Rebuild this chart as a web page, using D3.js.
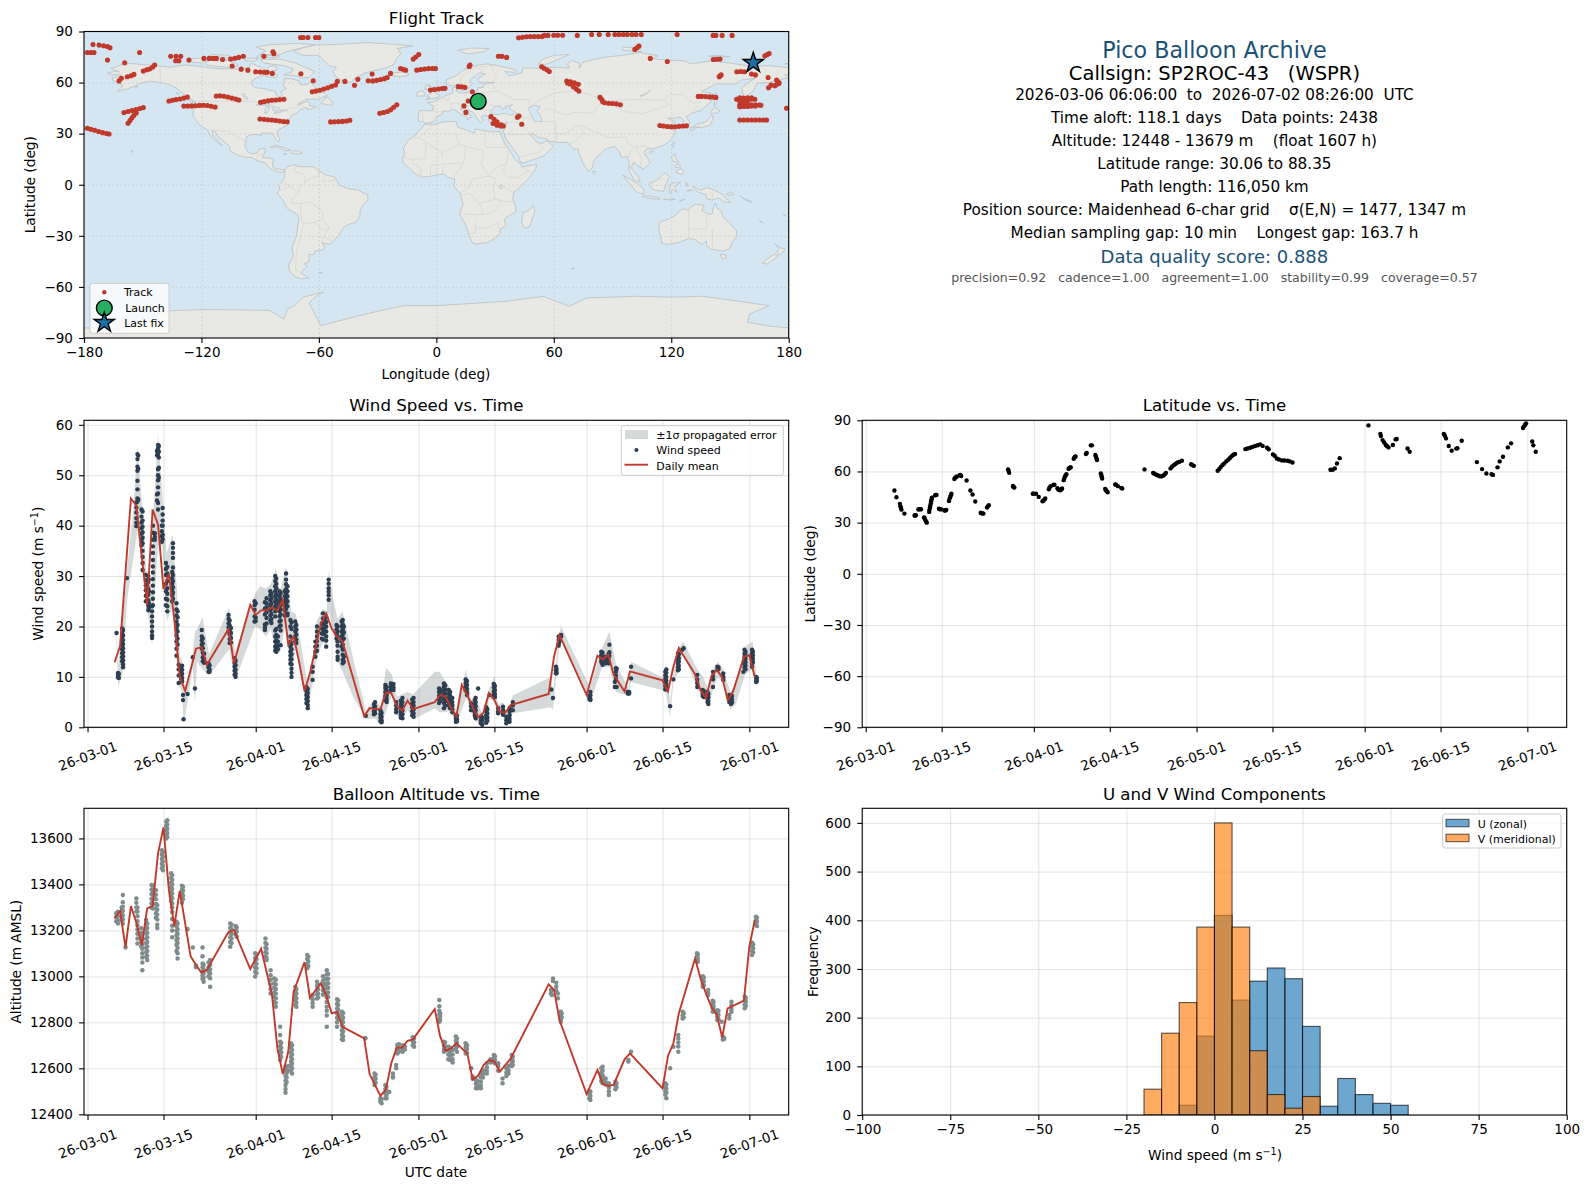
<!DOCTYPE html>
<html><head><meta charset="utf-8">
<script src="https://cdn.jsdelivr.net/npm/d3@7"></script>
<style>html,body{margin:0;padding:0;background:#fff}svg{display:block}text{font-family:"DejaVu Sans";fill:#000}</style>
</head><body><svg id="c" width="1589" height="1189"></svg>
<script>
// ---------- land outlines (lon, lat) ----------
const landNorthAmerica=[[-168.1,65.6],[-164.5,66.5],[-163,66.6],[-161.8,66.3],[-163.5,67.1],[-166.3,68.3],[-163,69.5],[-161,70.4],[-156.6,71.3],[-152,70.8],[-148,70.4],[-141,69.7],[-136,69],[-132,69.8],[-128,70.3],[-124.5,69.9],[-120,69.4],[-115,68.5],[-110,68],[-105,68.2],[-101,67.8],[-98,68],[-96,68.3],[-94.5,71.5],[-92,70],[-89,68.8],[-87,67.3],[-85,69.5],[-82,69.7],[-81.4,67.5],[-86,66],[-87,64.8],[-92,62.8],[-94.5,60.5],[-94.5,58.8],[-92.5,57],[-88,56.5],[-85,55.3],[-82.3,55.1],[-82,53],[-80,51.3],[-78.8,52.5],[-79.5,54.7],[-76.7,56.5],[-78.5,58.8],[-77.5,60.5],[-78,62.4],[-74,62.2],[-70,61],[-69.5,58.8],[-66,58.8],[-64.5,60.3],[-62,57.5],[-60,55.5],[-57,53.7],[-55.8,52.2],[-58.5,51.3],[-60,50.2],[-66.5,50.2],[-68.5,48.9],[-71,46.9],[-65.5,49.1],[-64.5,47.9],[-65,46.5],[-61,46],[-63.5,44.7],[-66,43.8],[-66,45.2],[-67.5,45],[-70,43.7],[-71,42.2],[-74,40.7],[-75.5,38],[-76,36.8],[-75.5,35.3],[-78,33.9],[-81,32],[-81.3,30],[-80.1,26.8],[-80.5,25.2],[-82,26.5],[-82.8,28.5],[-84,30],[-86,30.4],[-89.5,30.2],[-89.5,29.1],[-91.5,29.4],[-94.5,29.5],[-97,28],[-97.5,25],[-97.8,22.3],[-96.2,19.2],[-94.5,18.2],[-91.8,18.5],[-90.5,20.8],[-87.5,21.5],[-87.5,19.5],[-88.3,17.6],[-88.8,15.9],[-86,15.9],[-83.2,15],[-83.7,11],[-82.5,9.2],[-80,9.2],[-77.5,8.7],[-78,7.3],[-80.2,7.4],[-81.5,7.7],[-83,8.3],[-85.5,10],[-87.5,13],[-91.5,14],[-94.5,16.2],[-97,15.9],[-101.5,17.5],[-105.5,20],[-105.5,22.5],[-108.5,25.3],[-112,29],[-113,31.3],[-114.7,31.7],[-114,28.5],[-111,25],[-109.5,23],[-112,25],[-115,28],[-117.1,32.5],[-120.5,34.5],[-122.5,37.5],[-124.3,40.4],[-124,46],[-123,48.5],[-125,50],[-128,52.5],[-130.5,54.5],[-133,57],[-136,58.5],[-140,59.8],[-146,60.8],[-150,60],[-152,59.3],[-154,57.8],[-158,56.3],[-163,54.8],[-160,58.3],[-162,59.5],[-165,61],[-165.8,62.8],[-161,63.7],[-161.5,64.7],[-166,64.6],[-168.1,65.6]];
const landGreenland=[[-73,78.3],[-68,76],[-60,76],[-55,70],[-51,69],[-53,66.5],[-51,63],[-48,61],[-44,60],[-41,63],[-36,65.8],[-26,68.5],[-22,70.5],[-20,74.5],[-18,77],[-20,80],[-12,81.5],[-22,82.5],[-35,83.5],[-50,82.5],[-62,82],[-68,80.5],[-73,78.3]];
const landSouthAmerica=[[-77.5,8.7],[-75.5,10.8],[-72,12],[-71.5,11],[-68,10.5],[-63,10.7],[-61,9],[-57,6],[-52,4.5],[-50,1],[-50,0],[-48,-1],[-44.5,-2.5],[-40,-3],[-37,-5],[-35,-6],[-35,-9],[-37.5,-12],[-39,-15],[-39,-18],[-41,-22],[-44,-23],[-47,-24.7],[-48.6,-27],[-50,-30],[-53.5,-34],[-55,-35],[-58.3,-34.2],[-57,-36.5],[-58,-38.3],[-62,-39],[-62.5,-41],[-65,-41],[-65,-45],[-67.5,-46.5],[-66,-48],[-69,-51],[-68.5,-52.5],[-65.2,-54.8],[-69,-55.3],[-72,-54],[-75,-51],[-75.5,-47],[-73,-42],[-73.7,-37],[-71.5,-30],[-70.2,-20],[-71,-17.5],[-76,-14],[-78.5,-9],[-81.2,-5],[-80,-2.5],[-80.5,0],[-78.8,2],[-77.5,4],[-77.4,7],[-77.5,8.7]];
const landAfrica=[[-6,35.8],[-2,35.1],[3,36.8],[10,37.3],[11,33.7],[15,32.3],[19.5,30.3],[20,32.8],[25,31.7],[29,31],[32.3,31.3],[33.5,28],[35,24],[37,21],[38.5,18],[40,15],[43.2,12],[44,10.5],[51.2,11.9],[50.8,9.5],[47.5,4],[43,-1],[39.5,-4.5],[39,-8],[40.5,-13],[40.6,-16],[36,-19],[34.8,-20.5],[35.5,-24],[32.8,-26],[32.5,-28.5],[30,-31.5],[26,-34],[20,-34.8],[18.3,-34],[17,-30],[14.5,-22.5],[11.8,-17.5],[13.7,-11],[12,-5],[9,-1],[9.5,3.5],[6,4.3],[4.3,6.3],[1,5.9],[-3,5],[-7.5,4.4],[-11.5,7],[-13.5,9.5],[-16.7,12.5],[-17.4,14.7],[-16,19],[-17,21],[-14.5,26],[-11,28.7],[-9.7,31],[-6.8,34],[-6,35.8]];
const landEurasia=[[-9,37],[-9.3,39],[-8.8,43.5],[-2,43.4],[-1.3,46],[-4.5,48.3],[-1.5,48.7],[1.5,50.5],[4,52],[7,53.5],[8.5,54],[8.3,57],[10.7,57.7],[10,55],[12,54],[14,54],[19,54.5],[21.5,55.5],[21,57],[24,57.2],[24,59],[28,59.7],[30,60],[25,60.3],[22,60],[21.3,62.5],[25,65],[22,65.8],[17.5,62],[17,60.5],[18.5,59.5],[16.3,56.5],[14.2,55.5],[12.8,55.5],[11.2,59],[8,58],[5.3,59],[5,61.5],[10,64],[14,67.5],[20,70],[26,71],[31,70],[41,67.5],[40,66],[35,66.5],[37,64],[40,64.7],[44,66],[44,68.5],[54,68.5],[60,69],[68,68.5],[67,71],[69,73],[73,71.5],[73,68.5],[75,72],[80,73.5],[87,75],[95,76],[104,77.7],[113,75.7],[110,74],[113,73.7],[127,72.7],[130,71],[140,72.7],[150,71.5],[160,69.7],[170,69.9],[178,69],[180,68.8],[180,65],[178,64.5],[179.5,62.5],[174,61.7],[170,60],[164,59.8],[163,58],[162,55],[157,51],[156,57],[160,60.5],[163,62.5],[156,61.6],[152,59],[143,59.3],[135.5,54.8],[141,53.5],[140,48.5],[135,43.5],[130.8,42.2],[127.5,39.8],[129.4,37],[129,35.2],[126.3,34.5],[126.5,37.5],[124.5,39.8],[121.5,39],[118,39.2],[122,37],[119.3,34.8],[122,31],[121,28],[117,23.6],[113,22],[110,21],[108,21.6],[106,19],[109.3,13],[107,10.4],[105,8.7],[105,10],[103,11],[100.8,13.4],[99.5,10],[103.3,4.5],[104.2,1.4],[101,3],[98.5,8],[98.5,13],[97.5,16.5],[94.5,16],[93.5,19.5],[91,22.5],[87,21.3],[82.5,16.8],[80.3,14],[79.8,10],[77.5,8],[75,12.5],[72.8,19],[72.5,21],[70,21],[67,24.8],[61.5,25],[57,25.7],[56.5,27],[52,27.8],[49,30.3],[48,29.5],[50,26.7],[51.5,25],[54,24.2],[56.3,26],[59.8,22.5],[55,17],[52,15.7],[45,13],[43,13],[42,16.7],[39,21.5],[35,28],[34.8,29.5],[34.2,31.3],[35,33],[36,36.5],[32,36],[30,36.3],[27,37],[26.5,40.3],[24,40.8],[23,40],[24,37.8],[22.5,36.5],[21,38.5],[19.5,41.5],[18.7,42.6],[14,45],[12.4,45.3],[12.5,44],[16,41.7],[18.5,40],[16.8,39],[16,38],[15.6,40],[12.5,41.5],[10.5,43],[8.8,44.4],[6.5,43.2],[3.2,43.2],[3.2,41.8],[0.3,40],[-0.3,38.5],[-2,36.8],[-5.5,36],[-7,37.2],[-9,37]];
const landAustralia=[[114,-22],[113.5,-26],[115,-32],[115,-34.3],[118,-35],[123.5,-34],[129,-31.6],[132,-32],[135.5,-35],[138,-33],[138,-35.7],[140.5,-38],[144,-38.5],[146.5,-39],[150,-37.5],[151,-34],[153,-31],[153.5,-27],[151,-24],[149,-21.5],[146.5,-19],[145.5,-15],[143.5,-14],[142.5,-10.8],[141.5,-13],[141,-17],[139.5,-17.5],[135.5,-15],[136.8,-12],[132.5,-11.5],[130,-13],[129,-15],[125.5,-14],[122,-18],[119,-20],[114,-22]];
const landAntarctica=[[-180,-90],[-180,-84],[-160,-84.8],[-150,-80],[-136,-74],[-119,-73.3],[-100,-73.5],[-85,-73.8],[-78,-79],[-76,-73],[-73,-71.3],[-68,-66],[-57.5,-63],[-62,-66],[-65,-69.4],[-62,-76],[-59,-82.7],[-40,-77],[-25,-73],[-16.6,-71],[0,-71],[14,-70],[35,-68.5],[54.6,-65.5],[68,-71.3],[76.8,-66.5],[102,-65.5],[120,-66],[136,-65.5],[155,-68.5],[170,-71],[160,-76],[159,-80.7],[170,-83],[180,-84],[180,-90]];
const landIslands=[
[[-62,66.5],[-65,63],[-68,62.8],[-72,64],[-78,64.5],[-74,66],[-73,68],[-78,70],[-88,71.5],[-90,73.5],[-80,73.7],[-72,71.5],[-67,69],[-62,66.5]],
[[-117,70],[-105,68.8],[-101,70],[-105,73],[-115,73.3],[-118,72],[-117,70]],
[[-125,72],[-120,71.5],[-116,73.3],[-120,74.4],[-125,74],[-125,72]],
[[-90,76.5],[-80,76.3],[-77,78],[-70,80],[-62,82.3],[-72,83],[-85,82.2],[-92,81],[-87,78.5],[-90,76.5]],
[[-92,75],[-82,74.6],[-80,75.6],[-90,76.3],[-92,75]],
[[-117,75.2],[-106,74.8],[-106,76],[-115,76.5],[-117,75.2]],
[[-98,73],[-93,72.5],[-91,74],[-97,74.5],[-98,73]],
[[-87,63.5],[-82,63],[-81,64.3],[-85,66],[-87,65],[-87,63.5]],
[[-59,47.7],[-55.5,46.9],[-53,46.7],[-53,48.5],[-55.5,51.5],[-57.5,50],[-59,47.7]],
[[-85,21.9],[-82,23.1],[-77.5,21.8],[-74.2,20.2],[-77.5,19.9],[-78,20.7],[-82,22.3],[-85,21.9]],
[[-74.4,18.5],[-73,19.9],[-70,19.8],[-68.4,18.6],[-71,18],[-74.4,18.5]],
[[-78.3,18.2],[-76.3,18.1],[-77,17.8],[-78.3,18.2]],
[[-156,19],[-155,19.6],[-155.8,20.2],[-156,19]],
[[-128,50.7],[-125,50],[-123.5,48.4],[-125.5,48.9],[-128,50.7]],
[[-133,54],[-131.5,53],[-132,54],[-133,54]],
[[-154,57.5],[-152.5,58],[-153,57],[-154,57.5]],
[[-60,-51.5],[-58,-51.3],[-58.5,-52],[-60,-51.5]],
[[49.3,-12],[50.4,-15.5],[47.5,-24.8],[45,-25.5],[43.5,-22],[44.3,-16.3],[47,-15.3],[49.3,-12]],
[[-5.5,50],[1.3,51.2],[1.7,52.7],[0,53.5],[-1.8,55.5],[-2,57.5],[-4,57.7],[-3.2,58.6],[-5,58.6],[-6,56.5],[-3.3,54.9],[-3,53.4],[-5,52],[-3,51.3],[-5.5,50]],
[[-10,52],[-6.2,52.2],[-6,54],[-7.5,55.3],[-10,54.2],[-10,52]],
[[-24,65.5],[-22,64],[-18.5,63.4],[-14,64.5],[-15,66.2],[-20,66],[-24,65.5]],
[[11,79],[16,76.8],[24,78],[27,80],[18,80.3],[11,79]],
[[52,71],[56,70.7],[60,72.5],[68,76.5],[60,76],[54,73.5],[52,71]],
[[95,79],[105,78],[103,80],[95,81],[95,79]],
[[139,75.5],[146,75],[150,75.2],[143,76],[139,75.5]],
[[178,71],[180,71],[180,71.4],[178,71]],
[[131,34],[135,33.5],[140,35],[141,38],[141.5,40.5],[140,40.5],[138,37],[133,35.5],[131,34]],
[[140,42],[143,42],[145,43.3],[142,45.4],[140,42]],
[[130,31.5],[132,33],[130,33.8],[130,31.5]],
[[132.5,33.5],[134.5,33.7],[134,34.3],[132.5,33.5]],
[[142,46],[143.5,49],[143,54],[142,53],[142,46]],
[[120.2,23],[121,22],[122,25],[121,25.2],[120.2,23]],
[[108.7,19],[110,18.3],[111,19.7],[109.5,20],[108.7,19]],
[[120,16],[122,18.4],[122,16],[124,13],[121,13.7],[120,16]],
[[122,7.5],[125.5,5.7],[126.4,8],[125,9.6],[122.5,8],[122,7.5]],
[[122,10],[125,10.5],[124,12],[122,11.5],[122,10]],
[[79.8,8],[81.8,7.5],[80.5,6],[79.8,8]],
[[95.3,5.5],[98,4],[103.5,0],[106,-3],[105.8,-5.8],[102,-4],[98.5,1],[95.3,5.5]],
[[105.3,-6.8],[108,-6.5],[114.5,-7.8],[114,-8.7],[108,-7.8],[105.3,-6.8]],
[[109,1],[111,1.6],[113,3.2],[116.8,7],[119,5],[117.7,1],[116,-4],[111,-3],[109,-0.5],[109,1]],
[[119.5,-5.5],[120.5,-2.7],[123,-4.5],[121.5,-1],[125,1.5],[120,0.8],[119,-2],[119.5,-5.5]],
[[131,-0.8],[135,-3.3],[138,-1.7],[141,-2.6],[146,-5.5],[148,-8],[150.5,-10.5],[147,-10],[144,-7.7],[141,-9],[138,-8.2],[138,-6],[133,-4],[131,-0.8]],
[[124,-10],[127,-8.5],[125,-9],[124,-10]],
[[116,-8.5],[119,-8.4],[122,-8.5],[119,-9],[116,-8.5]],
[[127.5,1.5],[128.5,0],[128,-1],[127.5,1.5]],
[[129,-3],[131,-3.3],[128,-3.7],[129,-3]],
[[148,-5.5],[151,-4.2],[152,-5.5],[149,-6.3],[148,-5.5]],
[[155,-6.5],[157,-8],[160,-9.3],[161.5,-10.5],[158,-9],[155,-6.5]],
[[165,-21],[167,-22.3],[165.5,-21.8],[165,-21]],
[[177.5,-17.5],[178.5,-18],[177.5,-18.2],[177.5,-17.5]],
[[145,-41],[148,-41],[148,-43],[146,-43.5],[145,-41]],
[[172.8,-34.5],[175.5,-37],[178.3,-37.7],[176.8,-40],[175,-41.5],[174,-39.3],[175,-37.5],[172.8,-34.5]],
[[172.7,-40.7],[174.2,-41.7],[172.8,-43.7],[171,-45],[169,-46.6],[166.5,-46],[168.5,-44],[172.7,-40.7]],
[[69,-49],[70.5,-49.2],[69.5,-49.7],[69,-49]]
];
const inlandWater=[
[[28,41.5],[31,41.2],[35,42],[38,41],[41.5,41.7],[39,43.7],[37,45],[39,47],[35,46],[36,45.2],[33.5,44.4],[33,46],[30.5,46.3],[28,43.5],[28,41.5]],
[[47,45],[50,46.7],[53,46],[51.5,43],[53.5,40],[54,37],[50,37.3],[49,39.5],[47.5,43],[47,45]],
[[-92,46.8],[-88,48.8],[-85,47.5],[-85,46.5],[-92,46.8]],
[[-87.8,42],[-86.5,42],[-85,45.8],[-87,45.7],[-87.8,42]],
[[-84,46],[-80,45],[-81.7,43.2],[-83.5,43.7],[-84,46]],
[[-83,41.7],[-79,42.8],[-79,43.3],[-76.3,43.5],[-76.5,44],[-80,43.6],[-83,42.2],[-83,41.7]],
[[-97.5,50.5],[-96.5,50.5],[-98,53.5],[-99.5,53],[-97.5,50.5]],
[[33,-2.5],[34,-1],[33,0.3],[31.8,-1],[33,-2.5]],
[[104,52],[106,52.5],[109.5,55.5],[108,54],[104,52]]
];
const countryBorders=[
[[-123,49],[-95,49],[-89,48],[-83,46],[-82.5,43],[-79,43],[-75,45],[-71,45],[-69,47.3],[-67.5,45]],
[[-141,69.7],[-141,60],[-135,58.5]],[[-117,32.5],[-108,31.5],[-106.5,31.8],[-103,29],[-99,26.5],[-97.2,26]],
[[-92,14.6],[-91,17.5],[-89,17.8],[-89,15.8]],[[-72,12],[-72.5,7.5],[-67.5,6],[-67,1.5],[-70,-1],[-70,-4.2],[-73,-7.3],[-74,-11],[-69.5,-11],[-65.5,-10],[-60,-13.5],[-58,-16],[-58,-20],[-54.5,-25.5],[-57.5,-30],[-53.5,-33.5]],
[[-60,8.5],[-60,5],[-64,4],[-67,1.5]],[[-57,6],[-58,2],[-55,2.3],[-52,2.3],[-52,4.5]],[[-80.3,-3.4],[-75,-1],[-70,-4.2]],[[-79,1.5],[-75,-0.5]],[[-69.5,-17.5],[-68,-23],[-70,-33],[-71.5,-40],[-72,-50],[-68.5,-52.5]],[[-69.5,-17.5],[-69,-11]],[[-68,-23],[-62.5,-22],[-58,-20]],[[-62.5,-22],[-58,-27],[-54.5,-25.5]],[[-58.3,-34.2],[-57.5,-30]],
[[-8.7,27.5],[-13,27.7]],[[-8.7,27.5],[3,19],[12,23.5],[24,20],[23,12],[27,5]],[[9.5,30],[12,23.5]],[[-2,35],[-8.7,27.5]],[[25,31.7],[25,22]],[[25,22],[36.8,22]],[[3,6.5],[3.5,12],[14,13],[9,4.5]],[[-12,14.7],[-6,15.5],[-5,25]],[[3,15.5],[3,19]],[[14,13],[15,23]],[[-16.5,16],[-12,14.7],[-12,12.5],[-8,10],[-8,5]],[[-3,5],[-3,11],[3,12]],[[12.3,-6],[17,-5],[22,-11],[30,-8.5],[29,-2],[30.7,3.5],[27,5],[18.5,3.5],[17,-1],[12,-5]],[[36,12.5],[34,8],[36,4.5],[41,4],[47.5,8],[42.8,11]],[[34,-1],[39.5,-4.5]],[[30,-8.5],[34,-9.5],[40,-10.5]],[[12,-17.2],[24,-17.5],[22,-11]],[[20,-22],[20,-28.5],[17,-28.5]],[[24,-17.5],[30,-15.6],[33,-9.5]],[[32,-26],[31.5,-22.4],[25.5,-25.7],[20,-25]],[[36.8,22],[36,12.5],[30,10],[27,5]],
[[28,60],[31,55],[40,50],[47,50],[48,46],[55,51],[61,54],[70,55],[77,53.5],[87,49],[98,50],[107,50],[116,49.7],[119,53],[126,53],[131,48],[135,48.5],[131,43]],[[87,49],[96,43],[105,41.7],[111,44],[119,47],[116,49.7]],[[53,42],[56,45],[66,41],[71,42.5],[80,42],[83,47],[87,49]],[[44.5,39.5],[48,38.8]],[[44.5,39.5],[45,34],[48,30]],[[54,37.5],[61,36.5],[61,30],[61.5,25]],[[74,35],[79,32],[88,27.8],[97,28],[98,24],[101,21.5],[106,23],[108,21.6]],[[61,30],[66,30],[71,34],[74,35],[75,30],[70,25],[68,23.7]],[[36,36.5],[44.5,37]],[[36,29.5],[44,29.5],[48,29.5]],[[39,32],[36,29.5]],[[43,16.5],[52,19],[55,22],[51.5,24.5]],
[[-1.8,43.4],[3,42.5]],[[-7,42],[-7,37.2]],[[6,49.5],[2.5,51]],[[7,53.5],[6,49.5],[7.5,47.5],[13,47.5],[17,48.7],[23,48],[24,50],[23,54],[19,54.5]],[[14,54],[15,51],[19,49.5]],[[13.5,46.5],[19,46],[22,44],[28.5,44]],[[7.5,47.5],[7,44]],[[12,59],[13,64],[20,69],[26,69.5],[28.5,70]],[[24,66],[20,69]],[[28,60],[31,63],[29,67],[28.5,70]],[[30,46],[26,48],[24,50]],[[23,54],[31,55]],[[100,21],[98,16],[99,10]],[[102,22],[105,15],[104,11]],
[[129,-15],[129,-31.6]],[[138,-16.5],[138,-26],[129,-26]],[[141,-26],[141,-38]],[[141,-9],[141,-2.6]],[[109,1],[117,4]]
];
// ---------- flight track (lon, lat) ----------
const trackPoints=[[-178.3,33.2],[-176.5,32.6],[-174.5,32],[-172.5,31.3],[-170.5,30.6],[-168.5,30.1],[-167.2,29.8],[-159.6,42.4],[-157.5,43],[-155.5,43.6],[-153.5,44.2],[-151.5,44.8],[-149.7,45.3],[-157.5,36.1],[-156.5,37.7],[-155.5,39.3],[-154.5,40.8],[-153.3,42.2],[-136.6,49.2],[-134.8,49.6],[-133,50],[-131,50.4],[-129,50.9],[-127.2,51.5],[-129,46.2],[-127,46.2],[-125,46.3],[-123,46.4],[-121,46.6],[-119,46.7],[-117,46.5],[-115,46.1],[-113,45.6],[-112.4,52.1],[-110.5,52.2],[-108.5,52],[-106.5,51.5],[-104.5,50.9],[-102.5,50.3],[-100.9,49.8],[-89.8,48.4],[-88,48.8],[-86,49.3],[-84,49.6],[-82,49.8],[-80,50],[-77.9,50.2],[-90.1,38.6],[-88,38.4],[-86,38.2],[-84,38],[-82,37.7],[-80,37.4],[-78,37.1],[-76.2,37],[-54,36.9],[-52,37],[-50,37.1],[-48,37.2],[-46,37.4],[-44.2,37.9],[-28.9,42],[-27,42.4],[-25,43],[-23.3,44],[-21.8,45.5],[-20.2,47],[-63.4,54.6],[-61.5,55],[-59.5,55.5],[-57.5,56.2],[-55.5,57],[-53.5,57.8],[-51.5,58.6],[-50.6,60.7],[-46.7,60.7],[-41.8,58.4],[-40.1,61.9],[-34.8,61.1],[-32.5,61],[-30.5,61.3],[-28.5,61.8],[-26.5,62.3],[-25.1,63],[-32.8,65],[-23.4,65.4],[-18.3,68.3],[-17,67.8],[-15.7,67.3],[-10,67.3],[-8,67.7],[-6,68],[-4,68.2],[-2,68.3],[-0.4,68.2],[-11.8,73.8],[-10.5,75],[-9,76.5],[-3,55.6],[-1,55.9],[1,56.2],[3,56.5],[4.4,56.6],[17.2,70.3],[16.8,69.5],[11.2,57.6],[13,57.5],[14.6,57.2],[18.4,54.6],[16.3,49.2],[14.1,46.3],[15.1,42.5],[31.7,75.5],[33.5,75.4],[35.9,74.8],[53.8,69.3],[55,68.4],[56.5,67.5],[57.7,66.5],[66.6,60.9],[68.5,60.5],[70.5,59.8],[72.5,59],[67,59.8],[68.2,59.2],[70,57.5],[71.5,56.2],[72.8,55],[83.6,51.3],[84.5,50],[85,48.8],[86,48.2],[88,47.9],[90,47.7],[92,47.5],[94,47],[27.9,40],[29.5,38.5],[31,37],[33,35.2],[29,36],[31,35],[33,34.5],[34.2,34.5],[41.4,39.6],[42.2,40.4],[43.6,35.5],[101.4,79.5],[102.5,80.4],[103.5,81.4],[109.3,74.2],[118,72.4],[114.2,34.8],[116,34.5],[118,34.2],[120,34.1],[122,34.1],[124,34.3],[126,34.5],[127.8,34.6],[133.8,51.9],[135.5,51.9],[137.5,51.8],[139.5,51.6],[141.2,51.5],[142.8,51.3],[153.4,50.2],[155,50.1],[157,49.8],[159,50.2],[161,50.3],[162.7,50.2],[155,51],[157,50.9],[159,51],[161,51.1],[155,49],[157,49],[159,49.3],[155,46.8],[157,47],[159,47.2],[161,47],[163,46.9],[165,46.8],[165.8,46.7],[155,45.8],[157,46],[159,46],[161,46.2],[163,46.2],[155,38],[157,38],[159,38],[161,38],[163,38],[165,38],[167,38],[168.7,38],[153.5,66.4],[155.5,66.5],[157.4,66.4],[161,65],[163,64.5],[144.5,63.4],[144.9,64],[145.5,64.5],[141.5,73.6],[143.2,73.7],[144.9,73.8],[167.8,75.7],[169,76.4],[170,77.1],[169.5,63],[173.8,61.5],[169.7,57],[171,58.5],[173,58.2],[174,59],[175,59.5],[175,60],[178.9,44.9],[42,86.3],[44,86.6],[46,86.9],[48,87],[50,87],[52,87],[54,87],[55.1,87.7],[57,87.7],[60,87.8],[62,87.8],[64.5,87.8],[72,87.7],[79.3,88.2],[83.2,88.2],[87.8,88.2],[91.2,88.2],[93.3,88.2],[95.5,88.2],[97.5,88.2],[99.9,88.2],[102,88.2],[104.7,88.2],[123,88.2],[141.4,87.7],[142.8,87.7],[146,87.7],[151.1,87.7],[-69.4,86.5],[-68,86.5],[-65.6,86.5],[-61.7,86.5],[-60,86.5],[-178.3,77.7],[-176.5,77.7],[-174.9,77.7],[-175.4,82.4],[-172.3,82],[-170,81.6],[-168,81.2],[-166.7,80.4],[-168,73.2],[-159.2,71.6],[-151.6,77.7],[-162.1,61],[-160.9,62.5],[-157.9,63.4],[-156,64],[-154.5,64.8],[-149.7,66.8],[-148,67.5],[-146.5,68],[-145,69],[-143.9,70.3],[-135.7,75.5],[-133,75.5],[-130.6,75.5],[-133.2,72.8],[-131.5,72.8],[-126.4,73.2],[-118.7,74.2],[-116,74.2],[-114,74.2],[-112.4,74.2],[-109.2,73.6],[-105.1,73.8],[-103,74.3],[-101,74.8],[-98.6,75.5],[-104.3,69.7],[-99.7,67.9],[-96.3,67.3],[-92.3,66.4],[-90,66.2],[-88,66.1],[-86.4,66],[-83.8,65.4],[-88.1,75.5],[-83.5,78.1],[-83,77],[-69.2,65.2],[-62.9,61.1]];
const launchPoint=[21.4,49];
const lastFixPoint=[161.9,71.6];
// ---------- wind speed: [day since 1 Mar, [values]] ----------
const windColumns=[
[5.35,[18.7]],[5.62,[10.8,10.2,9.9,10.4]],[5.78,[10.6,9.8]],
[6.38,[19.6,18.7,17.9,17.1,16.3,15.5,14.7,13.9,13.1]],[6.55,[19.3,18.2,17.3,16.5,15.7,14.9,14.1,13.3,12.5,11.9]],
[7.26,[29.6]],[9.0,[44.6,43.6,42.6,41.5,40.6,39.9]],[9.2,[54.2,53.2,51.7,50.9,48.9,47.2,45.4,44.8]],[9.35,[53.9,51.3,45.2]],
[9.95,[43.2,41.8,40.6,39.5,38.4,37.2,36.1]],[10.15,[42.8,41,39.8,38.7,37.6,36.5,35,33.8,32.6,31.2]],
[10.75,[30.2,29.2,28.2,27.2,26.1,25]],[11.2,[30,28.8,27.5,26.3,25.2,24.1,23.2]],[11.3,[29.3,27,24.6,23.5]],
[11.9,[24,23,22,21,20,19,18.2,17.7]],[12.05,[40,38.6,37.2,35.9,34.6,33.2,31.9,30.7,29.4,28.1,26.8,25.5,24.2]],[12.4,[38.5,37.8,37.2]],[12.8,[54.8,54,46.2,45]],
[13,[56,55.3,54.4,53.8,51.2,50,49,47.6,46.4,44.5,43.2]],[13.15,[55.8,54.7,53.5,51.5,49.5]],[13.7,[40,38.9,37.9,36.8]],
[13.85,[43.5,42.2,41,40,38.2,37.3]],[14.45,[32.6,31.4,30.2,28.5,27,25.5,24.2]],[14.7,[31.8,30.5,29,27.6,26.5,25.3,24,23]],
[15.6,[30.8,29.6,28.5,27.3,26.2,25]],[15.75,[36.5,35.6,34.6,33.6,31.7,30.2,29,27.8,26.7,25.5]],
[16.4,[24.6,23.4,22.2,21,19.6,18.2,17,15.6,14.2]],[16.6,[23,21.8,20.3,19,17.6,16.4]],[16.8,[12.4,11.5,10.3,8.8]],
[17.25,[12,11.2,10.5,9.6]],[17.45,[12.2,11.4,10.6,9.8,9.1]],[17.6,[6.4,5.4]],[17.7,[1.6]],[18.45,[6.6]],[19.4,[13.9]],[19.8,[7.7]],
[21.05,[19.3,18,17.2,16.4,15.6]],[21.25,[17.6,16.6,15.7,14.8,13.9,13.1]],[21.5,[14.6,13.6,12.8]],[22.3,[12.7,11.9,11]],[22.5,[12.3,11.5,11]],
[26,[22.3,21.5,20.6,19.8,19]],[26.2,[21.2,20.2,19.3,18.4,17.5,16.7]],[26.45,[19.7,18.7,17.7,16.8]],[27.1,[13.7,12.8,12,11.2,10.4]],[27.3,[13.2,12.3,11.4,10.6,10]],
[30.8,[25,24.2,23.3,22,21]],[31,[24.6,21.8,21.1]],[32.7,[24.8,23.6,22.4,19.8,19.3,20.4]],[33,[25.6,24.6,23.8,22.8,21.7,20.6]],[33.7,[27,26.2,25.2,24.2,23.2,22.2,21.2]],[33.9,[26.5,25.6,24.6,23.6,22.5,21.5,20.7]],
[34.6,[30,29,28,27,26,25,24,23,22,19.2,18,17,16,15.2]],[34.8,[29.5,28.5,27.6,26.4,25.4,24.5,23.5,19.5,18.3,17.3,16.3,15.5,15]],[35.1,[18,17,16.2,15.5]],
[35.4,[27,26,25,24,23,22,21,20]],[35.6,[26.6,25.4,24.4,23.4,22.4,21.2,20.2,19.2,16.3]],[36.35,[27,26,25,24,23.2,22.2]],
[36.6,[30.5,29.3,28.4,27.4,26.5,25.5,24.5,23.5,22.5]],[36.85,[28,27,26,25,24,22.6,22.2]],[37.4,[21.3,20,18,17,16,15,14.2,13.4,12.6]],[37.6,[20.8,19.5,16.5,15.5,14.5,13.5,12.5,11.6,10.8,10]],
[38.3,[21,20,19,18,17]],[38.5,[20.3,19.4,18.4,17.4,16.7]],[40.35,[8,7.2,6.4,5.6,4.8]],[40.6,[7.6,6.8,6,5.2,4.4,3.8]],[41.5,[12,11,9.4]],
[42,[17,16,15,14]],[42.3,[20,19,18,17.1,16.2,15.2]],[43.2,[20.6,19.6,18.6,17.6]],[43.4,[22.6,21.6,20.6,19.6,18.8,17.4]],[43.6,[21.5,20.5,19.5,18.5]],[44,[21.8,20.9,20,19,18,17.2,16]],[44.45,[29.3,28.5,27.6,26.9,26.2,25.3]],
[45.9,[20.3,19.4,18.5,17.6]],[46.1,[20,19,18,17,16.2,15,14,13.4]],[46.85,[21,20,19,18,17,16]],[47.05,[21.3,20.4,19.4,18.4,17.4,16.4,15.4,14.4,13.4,12.7]],[47.25,[20,18.8,17.6,14,13]],
[51.3,[2.3]],[52.8,[4.6,3.9,3.2,2.6]],[53,[5,4.2,3.5,2.8]],[54,[3.4,2.6,1.9,1.2]],[54.2,[2.9,2.1,1.4,1]],[54.9,[8.4,7.8,7,6.2,5.4]],[55.15,[8,7.2,6.3,5.6,5]],[55.9,[8.7,8,7.4]],[56.4,[8.6,7.9,7.4]],
[56.9,[5,4.3,3.6,3]],[57.75,[5.3,4.6,3.9,3.2,2.5,1.9]],[58.05,[5.8,5,4.2,3.4,2.6,1.8]],[59.85,[5.5,4.7,4,3.2,2.4]],[60.1,[5.8,5,4.3,3.6,2.8,2.1]],
[64.8,[7.7,7,6.2,5.5,4.8]],[65.05,[7.5,6.8,6,5.2]],[65.7,[8.7,8,7.2,6.4,5.6,4.8,3.8]],[65.95,[8.3,7.5,6.7,5.9,5.1,4.3]],[66.6,[7.4,6.6,5.8,5,4.3]],[66.85,[7,6.2,5.4,4.6,3.8]],[67.25,[5.8,5,4.3,3.6,3]],[67.9,[2.4,1.7,1.1]],[68.1,[2.3,1.6,1.2]],
[69.7,[9.5,8.8,8,7.3]],[69.95,[9.2,8.4,7.6,6.9,6.4]],[70.7,[4.8,4.2,3.4]],[71.4,[5.4,4.6,3.8,3,2.3]],[71.55,[5.8,5,4.2,3.4,2.6,1.8]],[72,[7.7]],[72.5,[2.1,1.4,0.8]],[72.75,[2,1.3,0.5]],[73.5,[4,3.2,2.4,1.7,0.9]],[73.7,[3.6,2.8,2,1.3]],[74.1,[6.4]],
[74.9,[8.6,7.9,7.1,6.4]],[75.1,[8.2,7.4,6.6,6]],[75.7,[3.8,3.2,2.8]],[76.6,[4.1,3.4,2.7,2.5]],[77.2,[2.1,1.4,0.8]],[77.8,[3.8,3.1,2.4,1.7,1.1]],[78.4,[5,4.3,3.4]],
[85.5,[7.5]],[85.8,[5.8]],[86.35,[12,11.3,10.7]],[86.45,[11.6,11,10.7]],[86.85,[18,17.3,16.6,16.2]],[87,[17.7,17]],[87.3,[18.3,18]],
[92.5,[6.2,5.6]],[92.7,[7,6.3,5.6,5.4]],[94.7,[15,14.3,13.6,13]],[94.95,[14.8,14,13.4,12.6,12.4]],[95.5,[14,13.4,12.7]],[96.05,[14.5,13.8,13.1,12.7]],[96.2,[16.4,14.9,14.2]],
[97.2,[9,8]],[97.4,[11.7,11,10.3,9.6]],[97.55,[11.6,8]],[99.6,[7,6.7]],[99.85,[7,6.7]],[100.2,[12,9.7]],
[106.5,[11,10.3,9.6,8.9,8.2,7.5]],[106.7,[11.5,10.8,10,9.3,8.6,7.9]],[107.4,[4.2]],[108,[9.5]],[108.85,[14.7,14,13.3,12.6,11.9,11.3]],[109,[14.5,13.7,13,12.2,11.5]],[109.65,[15.4]],[109.9,[15.7]],
[112.4,[10.4,9.5,8.8,8]],[113.4,[7.4,6.7,6.2]],[113.6,[7.2,6.5,6]],[114.3,[7,6.4,5.7,5]],[114.45,[6.6,5.9,5.2,4.6]],[115.3,[11,10.2,9.5,8]],[116.1,[12,11.4]],[116.3,[11.9,11.5]],[117.2,[10.7,10,9.4]],
[118.3,[6.4,5.7,5]],[118.6,[5.8,5.2,4.6]],[118.8,[6.2,5.5,4.9]],[120.9,[11]],[121.1,[15.4,14.6,13.9,13.2,12.5,11.8]],[121.3,[15,14.3,13.6,12.9,12.2,11.5]],[122.5,[15.4,14.7,14,13.3,12.6,12]],[122.65,[15,14.3,13.6,12.9]],[123.25,[10,9.4,9]],[123.4,[9.8,9.2]]
];
const windMeanDays=[5,6,8,9,10,11,12,13,14,15,16,17,18,20,21,22,26,27,30,31,32,33,34,35,36,37,38,39,40,41,43,44,45,46,47,51,52,53,54,55,56,57,58,59,60,64,65,66,67,68,69,70,71,72,73,74,75,76,77,78,85,86,87,92,94,95,96,97,99,100,106,107,108,109,110,112,113,114,115,116,117,118,119,121,122,123];
const windMeanVals=[12.9,16.1,45.4,44,33.9,24.3,43.2,40.2,27.4,30.5,21.3,10,7.2,15.6,15.9,12.4,19.5,12.7,24.3,22.3,23.2,23.2,23.8,23.2,25.3,16.4,18,13,7.2,10.7,20.5,22.6,19.6,18,17,2.2,3.8,3.6,3.6,6.9,6.8,4.3,3.3,5.3,3.6,5,6.4,6.1,3.8,2.2,8.4,6.4,4,2,2.9,6.8,5.4,3.1,2.9,4.4,6.6,14,18.3,6.4,14.2,13.5,14.4,10.4,7.1,11.1,9.3,7.1,12,15.7,14,10.5,7.4,5.8,10.1,11.4,9.9,5.4,7.1,14,14.3,10];
const bandDays=[5.35,5.66,6.46,7.26,8.5,9.2,10,10.4,10.8,11.4,11.9,12.1,13,13.8,14.6,15.7,16.5,17,17.4,17.7,18.45,19.4,19.8,20.2,21.2,22.4,26.1,27.2,30.9,31.8,32.9,33.8,34.7,35.5,36.6,37.5,38.4,40.5,41.5,42.2,43.4,44.1,44.5,45.2,46.1,47,49,51.3,53,54.1,55,56.1,57,57.9,59,60,64,64.9,65.8,66.7,67.2,68,69.8,70.7,71.5,72.6,73.6,74,75,75.7,76.6,77.3,78.4,85.4,85.8,86.4,86.9,87.3,92.6,94.85,96.2,97.4,99.7,100.2,106.2,106.6,107.4,108,108.9,109.8,112.4,113.5,114.4,115.3,116.2,117.2,118.5,119.5,121.2,122.6,123.3];
const bandLow=[17,8.2,10.5,25,34,39,32,29,24,21,16.2,22,36,36,21,24,13,8,7,1,5,12,4.5,13,11.5,10.3,15.5,9.3,20,19.5,18,19.5,14.5,15,21,9.3,16,3.3,8.8,13.5,17,15.5,23,19.5,13,11,6,1.7,1.7,0.6,3,6.5,2.5,1.3,3.5,1.5,3.8,3,3,3.2,2.5,0.7,5.8,3,1.3,0.2,0.5,5.5,5.5,3.2,2,0.5,2.8,4,3.5,10,15.5,17.5,4.8,11.8,12,7,6.2,9,7.3,6.8,2,9,10.8,15,7.5,6,4,7.5,10,8.8,3.6,4.5,10.5,11.5,8.5];
const bandHigh=[20.5,12.2,21,31,44,55.8,45,40,31,31,26,42,58.2,46,34.5,38.3,27,14,13.5,8.5,8.5,14.8,19,19.5,21.8,14.5,23.8,15,26.5,28,27.5,28.5,31.5,27,32,23,22.5,9,13,21,23.5,23,31,26,21.5,23,13.5,3.3,5.5,4,11.8,10.5,6,6.5,7,6.5,11,11,9.5,8,6.5,3,11.5,5.5,6.5,3,6,7.5,10.2,4.5,5,2.8,6.3,10,7,13,18.5,20,8,15.8,19,12.5,7.8,13,9.8,12.5,5,10.5,15.5,17,11.5,10,7.5,11.5,13,11.5,7,8.5,16,17,10.5];
// ---------- altitude: [day since 1 Mar, [metres]] ----------
const altColumns=[
[5.3,[13275,13258,13240]],[5.6,[13281,13262,13244,13230]],[6.3,[13300,13282,13262,13244]],[6.5,[13354,13322,13303,13285,13266,13248,13230]],[7,[13126]],
[9,[13339,13320,13300,13282]],[9.2,[13300,13282,13262,13240,13222,13204,13185,13165,13143]],[9.9,[13209,13190,13170,13150,13130]],[10.1,[13180,13160,13140,13120,13100,13082,13060,13027]],
[10.8,[13245,13225,13205,13186,13165,13145,13125,13105,13085]],[11,[13230,13210,13190,13170,13150,13130,13110,13090,13071]],
[11.8,[13397,13378,13358,13338,13318,13298]],[12.05,[13395,13375,13355,13335,13315,13295]],[12.6,[13375,13355,13335,13315,13295,13275,13255]],[12.85,[13310,13290,13268,13247,13225,13210]],
[13.7,[13549,13530,13510,13490,13470]],[13.9,[13540,13520,13500,13480,13462]],[14.5,[13672,13654,13636,13618,13600]],[14.7,[13679,13660,13642,13624,13606]],
[15.4,[13448,13428,13408,13388,13368,13348,13328]],[15.6,[13440,13420,13400,13380,13360,13340,13317,13300,13280,13250,13220,13200,13170]],
[16.4,[13238,13218,13198,13178,13158,13138,13110]],[16.6,[13230,13205,13185,13165,13145,13125,13100,13078]],[17.4,[13394,13376,13358,13340,13320]],[17.6,[13390,13372,13352,13335]],[18.4,[13204,13206]],[19.4,[13126]],[20,[13046,13040]],
[21.2,[13126,13088,13056,13040,13022,13004,12990]],[21.4,[13050,13030,13012,12994,12977]],[22.3,[13060,13040,13020,13000]],[22.6,[13071,13050,13030,13012,12992,12955]],
[26.3,[13230,13210,13190,13170,13150,13129]],[26.55,[13225,13205,13185,13165,13145]],[27.3,[13219,13200,13182]],[27.5,[13212,13195,13172]],
[30.9,[13100,13080,13060,13040,13020,12999]],[31.15,[13095,13075,13055,13035,13015]],[32.8,[13165,13145,13125,13105,13085]],[33,[13140,13120,13100,13080,13071]],[33.75,[13027,13005,12985,12965,12945,12925]],[34.4,[12991,12970,12950,12930,12910,12890]],[34.7,[12985,12965,12945,12925,12905,12885,12868]],
[35.5,[12781,12745,12716,12696,12676,12656,12636]],[35.7,[12710,12690,12670,12650]],[36.5,[12607,12587,12567,12547,12527,12510,12494]],[36.7,[12600,12580,12560,12540]],[37,[12610,12590]],[37.5,[12709,12689,12669,12649,12629,12609,12589]],[37.7,[12700,12680,12660,12640,12620,12600,12578]],
[38.3,[12955,12935,12915,12895,12875]],[38.5,[12945,12925,12905,12885,12868]],[40.5,[13093,13075,13055,13035]],[40.7,[13085,13065,13045]],[41.5,[12919,12900,12884,12868]],[42.3,[12977,12958,12940,12922,12904]],[42.5,[12965,12945,12925,12908]],
[43.4,[13000,12980,12960,12940,12920]],[43.6,[12985,12965,12945,12925]],[44.1,[13027,13008,12988,12968,12948,12928,12908,12888,12868,12850,12830,12781]],[44.35,[13010,12990,12970,12950,12930,12910]],
[46,[12900,12880,12860,12840,12820,12800,12781]],[46.2,[12895,12875,12855,12835,12815]],[46.9,[12846,12826,12806,12786,12766,12746,12726]],[47.1,[12840,12820,12800,12780,12760,12740,12723]],[51.2,[12730,12732]],
[52.9,[12578,12560,12542,12527]],[53.1,[12572,12555,12537]],[54,[12470,12460,12455]],[54.2,[12465,12448]],[54.9,[12527,12510,12490,12470]],[55.1,[12520,12502,12482,12470]],[55.6,[12497,12497]],[56.3,[12578,12565,12560]],[56.9,[12614,12600]],
[57.1,[12701,12685,12665]],[57.4,[12705,12688,12672]],[58.1,[12700,12685,12672]],[58.5,[12695,12682]],[59.95,[12735,12718,12700]],[60.2,[12730,12712,12694]],
[64.85,[12897,12870,12850,12833,12815,12803]],[65,[12840,12825,12810]],[65.7,[12716,12700,12684,12672]],[65.9,[12712,12695,12678]],[66.5,[12694,12678,12660,12640]],[66.85,[12690,12672,12655,12636]],[67.3,[12680,12660,12640,12625]],[67.9,[12738,12720,12702,12685]],[68.1,[12730,12712,12695,12672]],
[69.7,[12709,12693,12677,12665]],[69.95,[12700,12684,12667]],[70.7,[12600,12600]],[71,[12565,12555]],[71.6,[12549,12533,12513]],[71.85,[12545,12528,12513]],[72.5,[12578,12560,12542,12525,12513]],[72.9,[12592,12575,12560]],[73.6,[12622,12605,12590,12578]],[74.3,[12640,12625]],
[74.9,[12658,12642,12628]],[75.1,[12652,12636,12622]],[75.7,[12622,12608,12590]],[76.5,[12556,12535]],[77.2,[12600,12582,12567]],[77.6,[12610,12592,12577]],[78.2,[12658,12640,12622,12610]],[78.4,[12650,12632,12615]],
[85.4,[12941,12925]],[85.6,[12938,12919]],[85.8,[12991,12980]],[86.4,[12972,12955,12938]],[86.7,[12925,12905]],[87.25,[12846,12830,12815,12803]],[87.4,[12840,12822]],
[92.5,[12503,12488,12470]],[92.7,[12498,12480,12462]],[94.7,[12600,12580,12562,12545]],[94.95,[12607,12590,12570,12552,12535]],[95.5,[12556,12540,12530]],[96.1,[12535,12518,12500,12484]],[97.3,[12542,12525,12509]],[97.5,[12535,12518]],[99.7,[12636,12630]],[100.2,[12672]],
[106.5,[12535,12518,12500,12485]],[106.7,[12530,12512,12495,12470]],[107.4,[12600]],[108,[12694]],[108.9,[12745,12730,12712,12695,12672]],[109.7,[12846,12830,12817]],[109.9,[12840,12822]],
[112.35,[13100,13085,13068]],[112.5,[13095,13078,13064]],[113.4,[13001,12985,12968,12955]],[113.6,[12995,12978,12960]],[114.4,[12941,12928,12919]],[115.25,[12894,12878,12862,12846]],[115.4,[12888,12870,12855]],[116.1,[12853,12838,12825,12810]],[116.3,[12850,12832,12815]],[116.9,[12803]],[117.1,[12738,12725]],[117.35,[12732,12728]],
[118.3,[12832,12817]],[118.7,[12890,12873,12858,12846]],[121.15,[12911,12895,12878,12861]],[121.35,[12906,12890,12872]],[122.5,[13146,13128,13110,13093]],[122.7,[13140,13122,13104]],[123.2,[13259,13242,13225]],[123.4,[13255,13238,13219]]
];
const altMeanDays=[5,6,7,8,9,10,11,12,13,14,15,16,17,19,20,21,22,26,27,30,32,34,35,36,37,38,40,41,43,44,45,46,47,51,52,54,55,56,57,58,59,60,64,65,66,67,68,70,71,72,73,74,75,76,77,78,85,86,87,92,94,95,96,97,99,100,106,107,108,109,112,113,114,115,116,117,118,121,122,123];
const altMeanVals=[13253,13285,13126,13306,13233,13136,13296,13307,13535,13648,13375,13219,13372,13088,13049,13016,13028,13194,13201,13032,13120,12919,12687,12575,12672,12933,13062,12907,12970,12919,12839,12846,12781,12730,12575,12480,12509,12622,12690,12690,12720,12726,12858,12740,12677,12687,12709,12665,12552,12567,12614,12636,12629,12586,12614,12642,12965,12941,12810,12488,12593,12532,12523,12529,12639,12665,12513,12654,12709,12839,13078,12991,12926,12868,12832,12735,12861,12894,13129,13245];
// ---------- latitude vs time ----------
const latDays=[5.29,5.66,6.3,6.4,6.5,6.58,7.13,9,9.1,9.25,9.7,9.9,10.05,10.2,10.75,10.85,11,11.15,11.25,11.7,11.75,11.85,11.9,12,12.05,12.15,12.2,12.8,12.9,13.05,13.5,13.6,13.75,13.9,14.5,14.6,14.75,14.85,15.35,15.45,15.6,15.7,15.8,16.35,16.45,16.7,16.8,17.3,17.45,17.6,18.6,19.3,19.7,20.2,21.2,21.35,21.55,21.7,22.35,22.5,22.7,26.25,26.35,26.45,27.15,27.25,27.4,30.8,30.95,31.4,31.9,32.6,32.75,32.95,33.1,33.75,33.9,34.1,34.6,34.8,35.35,35.5,35.7,35.9,36.1,36.2,36.5,36.6,36.7,36.85,37,37.4,37.55,37.7,37.8,38.35,38.45,38.6,38.7,40.6,40.75,41.5,41.7,42.35,42.45,42.55,42.65,43.35,43.45,43.5,43.6,44.15,44.3,44.45,44.6,46,46.15,46.5,47.1,47.3,51.4,53,53.15,53.45,53.7,54,54.3,54.6,54.9,55.15,55.35,56.2,56.5,56.8,57.1,57.4,57.8,58.3,60,60.2,60.5,64.9,65.2,65.5,65.8,66.1,66.5,66.9,67.2,67.5,67.8,68.1,70,70.4,70.9,71.3,71.8,72.3,72.75,73.2,74,74.3,75.1,75.4,75.8,76.2,76.75,77.2,77.8,78.2,78.7,85.7,86.1,86.5,86.9,87.4,92.7,94.9,95,95.3,95.6,95.9,96.1,96.4,97.2,97.7,97.9,99.9,100.3,106.6,106.8,107,107.5,108.05,108.9,109.1,109.9,112.7,113.65,114.45,115.4,115.65,116.5,116.9,117.5,118.4,119,121.2,121.35,121.6,121.75,122.9,123.1,123.55];
const latVals=[48.8,44.9,41,39.6,38.6,37.6,35.3,34.2,34.1,34.3,37.7,37.9,37.9,37.8,33,32.7,31.4,30.7,30,36.3,37.5,38.8,40,41.2,42.5,43.7,44.6,46,46.2,46.2,38.2,38,37.8,37.8,37.3,37.1,37.2,37.5,42.7,44,45.1,46,47,55.6,56.2,56.9,57,57.7,57.9,57.3,54.7,48.8,46.5,42.4,35.8,35.5,35.4,35.3,38.8,39.5,40.2,61.2,60.3,59.2,51.5,50.8,50.6,47,47,46.9,45.1,42.5,42.9,43.6,44.2,49.6,50.6,51.4,52.1,52.2,50.2,49.5,49.1,49,49.6,50,54.9,55.8,56.9,57.7,58.4,61.5,62,62.3,62.4,67.4,68.1,68.6,68.8,70.2,70.8,75.3,75.3,69.7,68.7,67.7,66.7,58.8,57.9,56.9,55.9,49.8,49,48.4,47.8,52.4,52.2,51.4,50.4,50,61.2,59.2,58.8,58.3,57.9,57.5,57.1,57.2,57.6,58.3,59.2,61.8,62.9,63.7,64.4,65.1,65.6,66.3,64.2,63.8,63.3,60.4,61.5,62.7,63.8,64.7,66,67,68,69,69.8,70.2,73.1,73.5,73.9,74.4,74.9,75.4,75.9,75,73.9,73,70,69.2,67.6,67,66.5,66.4,66.3,65.9,65.3,61,61,61.8,64.7,67.8,87,82,80.8,78.4,77,75.5,74.9,74.1,75.5,78.8,79,73.5,71.6,82,81,79.4,74.9,72.2,73.4,73.6,78,65.5,61.4,58.8,58.4,58,62.4,65.9,68.6,74.1,76.5,85.5,86.3,87.4,88.2,77.6,75.3,71.6];
// ---------- histogram ----------
const histBinWidth=5;
const uBinStarts=[-10,-5,0,5,10,15,20,25,30,35,40,45,50];
const uCounts=[20,162,410,236,275,302,280,182,18,75,42,24,20];
const vBinStarts=[-20,-15,-10,-5,0,5,10,15,20,25];
const vCounts=[53,168,231,386,600,386,132,42,14,38];
// ---------- tick labels and text ----------
const dateTicks=["2026-03-01","2026-03-15","2026-04-01","2026-04-15","2026-05-01","2026-05-15","2026-06-01","2026-06-15","2026-07-01"];
const lonTicks=[-180,-120,-60,0,60,120,180];
const latTicks=[-90,-60,-30,0,30,60,90];
const windTicks=[0,10,20,30,40,50,60];
const altTicks=[12400,12600,12800,13000,13200,13400,13600];
const histXTicks=[-100,-75,-50,-25,0,25,50,75,100];
const histYTicks=[0,100,200,300,400,500,600];
const infoLines=[
["Pico Balloon Archive",58,22.2,"#1a5276"],
["Callsign: SP2ROC-43   (WSPR)",80,19.5,"#000"],
["2026-03-06 06:06:00  to  2026-07-02 08:26:00  UTC",100,15.25,"#000"],
["Time aloft: 118.1 days    Data points: 2438",123,15.25,"#000"],
["Altitude: 12448 - 13679 m    (float 1607 h)",146,15.25,"#000"],
["Latitude range: 30.06 to 88.35",169,15.25,"#000"],
["Path length: 116,050 km",192,15.25,"#000"],
["Position source: Maidenhead 6-char grid    σ(E,N) = 1477, 1347 m",215,15.25,"#000"],
["Median sampling gap: 10 min    Longest gap: 163.7 h",238,15.25,"#000"],
["Data quality score: 0.888",262.7,18,"#1a5276"],
["precision=0.92   cadence=1.00   agreement=1.00   stability=0.99   coverage=0.57",282,12.55,"#555"]
];
// ---------- colours ----------
const C={ocean:"#d4e6f1",land:"#e8e8e4",coast:"#bcc3c6",border:"#d4d4d0",red:"#c0392b",wind:"#2c3e50",band:"#7f8c8d",alt:"#7f8c8d",launch:"#27ae60",star:"#1a6fa8",grid:"#b2b2b2"};

const svg=d3.select("#c");
svg.append("rect").attr("width",1589).attr("height",1189).attr("fill","#fff");
const box={L:{l:84,r:788.7},R:{l:862.2,r:1566.7}};
const toDate=d=>new Date(Date.UTC(2026,2,1)+d*864e5);
const first=5.254,last=123.351,pad=5.905;
const dayDomain=[toDate(first-pad),toDate(last+pad)];
const fmtDate=d3.utcFormat("%y-%m-%d");

function panel(name,pos,top,bottom,title,titleOffset){
  const g=svg.append("g").attr("class",name);
  const o={g,l:pos.l,r:pos.r,t:top,b:bottom};
  const id="clip-"+name;
  svg.append("clipPath").attr("id",id).append("rect").attr("x",pos.l).attr("y",top).attr("width",pos.r-pos.l).attr("height",bottom-top);
  o.back=g.append("g");
  o.plot=g.append("g").attr("clip-path","url(#"+id+")");
  o.top=g.append("g");
  g.append("text").attr("x",(pos.l+pos.r)/2).attr("y",top-titleOffset).attr("text-anchor","middle").attr("font-size",16.65).text(title);
  return o;
}
function frame(o){
  o.top.append("rect").attr("x",o.l).attr("y",o.t).attr("width",o.r-o.l).attr("height",o.b-o.t).attr("fill","none").attr("stroke","#000").attr("stroke-width",1.1);
}
function axes(o,x,y,xTicks,yTicks,xFmt,rot,gridDash,yFmt){
  const gridOp=0.36;
  const gx=o.back.append("g").attr("transform",`translate(0,${o.b})`).call(d3.axisBottom(x).tickValues(xTicks).tickSize(-(o.b-o.t)).tickFormat(""));
  const gy=o.back.append("g").attr("transform",`translate(${o.l},0)`).call(d3.axisLeft(y).tickValues(yTicks).tickSize(-(o.r-o.l)).tickFormat(""));
  [gx,gy].forEach(s=>{s.select(".domain").remove();s.selectAll("line").attr("stroke",C.grid).attr("stroke-opacity",gridOp).attr("stroke-width",1).attr("stroke-dasharray",gridDash||null);});
  const ax=o.top.append("g").attr("transform",`translate(0,${o.b})`).call(d3.axisBottom(x).tickValues(xTicks).tickSize(4.9).tickPadding(5).tickFormat(xFmt));
  const ay=o.top.append("g").attr("transform",`translate(${o.l},0)`).call(d3.axisLeft(y).tickValues(yTicks).tickSize(4.9).tickPadding(6.2).tickFormat(yFmt||(d=>String(d).replace("-","−"))));
  [ax,ay].forEach(s=>{s.select(".domain").remove();s.selectAll("line").attr("stroke","#000").attr("stroke-width",1.1);s.selectAll("text").attr("font-size",13.5).attr("font-family","DejaVu Sans").attr("fill","#000");});
  if(rot){
    ax.selectAll("text").attr("text-anchor","middle").attr("y",0).attr("dy","0.36em").attr("transform","translate(-0.5,28.7) rotate(-20)");
  }
}
function label(g,text,x,y,rotate,sup){
  const t=g.append("text").attr("font-size",13.7).attr("text-anchor","middle");
  t.attr("transform",`translate(${x},${y})`+(rotate?" rotate(-90)":""));
  if(sup){
    t.append("tspan").text(text);
    t.append("tspan").attr("dy",-5).attr("font-size",9.6).text(sup);
    t.append("tspan").attr("dy",5).text(")");
  } else t.text(text);
}
function dots(o,data,x,y,r,color){
  o.plot.append("g").selectAll("circle").data(data).join("circle").attr("cx",d=>x(d[0])).attr("cy",d=>y(d[1])).attr("r",r).attr("fill",color);
}
const expand=cols=>cols.flatMap(c=>c[1].map(v=>[toDate(c[0]),v]));

// ===== Map =====
{
  const p=panel("map",box.L,31.5,338,"Flight Track",7.6);
  const lon=d3.scaleLinear().domain([-180,180]).range([p.l,p.r]);
  const lat=d3.scaleLinear().domain([-90,90]).range([p.b,p.t]);
  p.back.append("rect").attr("x",p.l).attr("y",p.t).attr("width",p.r-p.l).attr("height",p.b-p.t).attr("fill",C.ocean);
  const path=d3.line().x(d=>lon(d[0])).y(d=>lat(d[1]));
  const mapClip=p.back.append("g").attr("clip-path","url(#clip-map)");
  const lands=[landNorthAmerica,landGreenland,landSouthAmerica,landAfrica,landEurasia,landAustralia,landAntarctica,...landIslands];
  mapClip.selectAll("path.land").data(lands).join("path").attr("class","land").attr("d",path).attr("fill",C.land).attr("stroke",C.coast).attr("stroke-width",0.9);
  mapClip.selectAll("path.water").data(inlandWater).join("path").attr("class","water").attr("d",path).attr("fill",C.ocean).attr("stroke",C.coast).attr("stroke-width",0.8);
  mapClip.selectAll("path.border").data(countryBorders).join("path").attr("class","border").attr("d",path).attr("fill","none").attr("stroke",C.border).attr("stroke-width",0.7);
  axes(p,lon,lat,lonTicks,latTicks,d=>String(d).replace("-","−"),false,"2,2");
  dots(p,trackPoints,lon,lat,2.55,C.red);
  p.plot.append("circle").attr("cx",lon(launchPoint[0])).attr("cy",lat(launchPoint[1])).attr("r",7.9).attr("fill",C.launch).attr("stroke","#000").attr("stroke-width",1.4);
  const star=d3.symbol(d3.symbolStar,125);
  p.plot.append("path").attr("d",star()).attr("transform",`translate(${lon(lastFixPoint[0])},${lat(lastFixPoint[1])})`).attr("fill",C.star).attr("stroke","#000").attr("stroke-width",1.4);
  frame(p);
  label(p.g,"Latitude (deg)",35.4,(p.t+p.b)/2,true);
  label(p.g,"Longitude (deg)",436,378.5,false);
  const lg=p.top.append("g");
  lg.append("rect").attr("x",90).attr("y",283.3).attr("width",79).attr("height",50).attr("rx",2.5).attr("fill","#fff").attr("fill-opacity",0.8).attr("stroke","#ccc").attr("stroke-width",1);
  lg.append("circle").attr("cx",104.3).attr("cy",292.3).attr("r",2.2).attr("fill",C.red);
  lg.append("circle").attr("cx",104.3).attr("cy",308).attr("r",7.9).attr("fill",C.launch).attr("stroke","#000").attr("stroke-width",1.4);
  lg.append("path").attr("d",star()).attr("transform","translate(104.3,322.7)").attr("fill",C.star).attr("stroke","#000").attr("stroke-width",1.4);
  [["Track",124,296],["Launch",125.3,312],["Last fix",124.3,327]].forEach(r=>lg.append("text").attr("x",r[1]).attr("y",r[2]).attr("font-size",10.9).attr("fill","#222").text(r[0]));
}
// ===== Info =====
{
  const g=svg.append("g").attr("text-anchor","middle");
  g.selectAll("text").data(infoLines).join("text").attr("x",1214.45).attr("y",d=>d[1]).attr("font-size",d=>d[2]).style("fill",d=>d[3]).style("white-space","pre").text(d=>d[0]);
}
// ===== Wind =====
{
  const p=panel("wind",box.L,420.3,727.3,"Wind Speed vs. Time",9.4);
  const x=d3.scaleUtc().domain(dayDomain).range([p.l,p.r]);
  const y=d3.scaleLinear().domain([0,60.9]).range([p.b,p.t]);
  axes(p,x,y,dateTicks.map(s=>new Date(s+"T00:00:00Z")),windTicks,fmtDate,true);
  const area=d3.area().x((d,i)=>x(toDate(bandDays[i]))).y0((d,i)=>y(bandLow[i])).y1((d,i)=>y(bandHigh[i]));
  p.plot.append("path").datum(bandDays).attr("d",area).attr("fill",C.band).attr("fill-opacity",0.33);
  dots(p,expand(windColumns),x,y,2.2,C.wind);
  const line=d3.line().x(d=>x(toDate(d))).y((d,i)=>y(windMeanVals[i]));
  p.plot.append("path").datum(windMeanDays).attr("d",line).attr("fill","none").attr("stroke",C.red).attr("stroke-width",1.9);
  frame(p);
  label(p.g,"Wind speed (m s",42.5,(p.t+p.b)/2,true,"−1");
  const lg=p.top.append("g");
  lg.append("rect").attr("x",621.3).attr("y",425.7).attr("width",162).attr("height",49.6).attr("rx",2.5).attr("fill","#fff").attr("fill-opacity",0.8).attr("stroke","#ccc");
  lg.append("rect").attr("x",625).attr("y",430).attr("width",23).attr("height",9).attr("fill",C.band).attr("fill-opacity",0.33);
  lg.append("circle").attr("cx",636.4).attr("cy",450).attr("r",2.05).attr("fill",C.wind);
  lg.append("line").attr("x1",624.5).attr("x2",648).attr("y1",464.7).attr("y2",464.7).attr("stroke",C.red).attr("stroke-width",1.9);
  [["±1σ propagated error",439],["Wind speed",454.3],["Daily mean",470]].forEach(r=>lg.append("text").attr("x",656.3).attr("y",r[1]).attr("font-size",11).attr("fill","#222").text(r[0]));
}
// ===== Latitude =====
{
  const p=panel("lat",box.R,420.3,727.3,"Latitude vs. Time",9.4);
  const x=d3.scaleUtc().domain(dayDomain).range([p.l,p.r]);
  const y=d3.scaleLinear().domain([-90,90]).range([p.b,p.t]);
  axes(p,x,y,dateTicks.map(s=>new Date(s+"T00:00:00Z")),latTicks,fmtDate,true);
  dots(p,latDays.map((d,i)=>[toDate(d),latVals[i]]),x,y,2.2,"#000");
  frame(p);
  label(p.g,"Latitude (deg)",814.5,(p.t+p.b)/2,true);
}
// ===== Altitude =====
{
  const p=panel("alt",box.L,808.3,1115,"Balloon Altitude vs. Time",8.6);
  const x=d3.scaleUtc().domain(dayDomain).range([p.l,p.r]);
  const y=d3.scaleLinear().domain([12397,13731]).range([p.b,p.t]);
  axes(p,x,y,dateTicks.map(s=>new Date(s+"T00:00:00Z")),altTicks,fmtDate,true,null,d=>String(d));
  dots(p,expand(altColumns),x,y,2.25,C.alt);
  const line=d3.line().x(d=>x(toDate(d))).y((d,i)=>y(altMeanVals[i]));
  p.plot.append("path").datum(altMeanDays).attr("d",line).attr("fill","none").attr("stroke",C.red).attr("stroke-width",1.9);
  frame(p);
  label(p.g,"Altitude (m AMSL)",20.5,(p.t+p.b)/2,true);
  label(p.g,"UTC date",436,1176.5,false);
}
// ===== Histogram =====
{
  const p=panel("hist",box.R,808.3,1115,"U and V Wind Components",8.6);
  const x=d3.scaleLinear().domain([-100,100]).range([p.l,p.r]);
  const y=d3.scaleLinear().domain([0,630]).range([p.b,p.t]);
  axes(p,x,y,histXTicks,histYTicks,d=>String(d).replace("-","−"),false);
  const bars=(starts,counts,color)=>p.plot.append("g").selectAll("rect").data(starts).join("rect")
    .attr("x",d=>x(d)).attr("width",d=>x(d+histBinWidth)-x(d)).attr("y",(d,i)=>y(counts[i])).attr("height",(d,i)=>p.b-y(counts[i]))
    .attr("fill",color).attr("fill-opacity",0.65).attr("stroke","#000").attr("stroke-opacity",0.65).attr("stroke-width",1.1);
  bars(uBinStarts,uCounts,"#1f77b4");
  bars(vBinStarts,vCounts,"#ff7f0e");
  frame(p);
  label(p.g,"Frequency",818,(p.t+p.b)/2,true);
  label(p.g,"Wind speed (m s",1215,1159.5,false,"−1");
  const lg=p.top.append("g");
  lg.append("rect").attr("x",1442.7).attr("y",814).attr("width",118.3).attr("height",34).attr("rx",2.5).attr("fill","#fff").attr("fill-opacity",0.8).attr("stroke","#ccc");
  [["U (zonal)","#1f77b4",819.3,828],["V (meridional)","#ff7f0e",834.2,843.3]].forEach(r=>{
    lg.append("rect").attr("x",1446).attr("y",r[2]).attr("width",23).attr("height",7.5).attr("fill",r[1]).attr("fill-opacity",0.65).attr("stroke","#000").attr("stroke-opacity",0.65);
    lg.append("text").attr("x",1477.7).attr("y",r[3]).attr("font-size",11).attr("fill","#222").text(r[0]);
  });
}
</script></body></html>
